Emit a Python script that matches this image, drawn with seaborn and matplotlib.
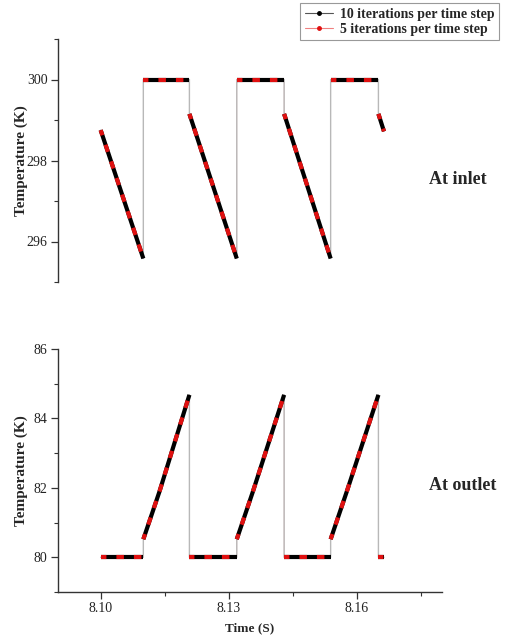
import numpy as np
import pandas as pd
import matplotlib
matplotlib.use("Agg")
import matplotlib.pyplot as plt
from matplotlib.lines import Line2D
from matplotlib.ticker import MultipleLocator, FixedLocator
import seaborn as sns

# ---------------- data ----------------
time_inlet = [8.1000, 8.1100, 8.1100, 8.1208, 8.1208, 8.1319, 8.1319, 8.1430,
              8.1430, 8.1539, 8.1539, 8.1651, 8.1651, 8.1664]
temp_inlet_10 = [298.75, 295.58, 300.0, 300.0, 299.15, 295.58, 300.0, 300.0,
                 299.15, 295.58, 300.0, 300.0, 299.15, 298.72]
temp_inlet_5 = [298.75, 295.58, 300.0, 300.0, 299.15, 295.58, 300.0, 300.0,
                299.15, 295.58, 300.0, 300.0, 299.15, 298.72]
seg_inlet = [0, 0, 1, 1, 2, 2, 3, 3, 4, 4, 5, 5, 6, 6]

time_outlet = [8.1000, 8.1100, 8.1100, 8.1138, 8.1208, 8.1208, 8.1319,
               8.1319, 8.1357, 8.1430, 8.1430, 8.1539, 8.1539, 8.1577,
               8.1651, 8.1651, 8.1664]
temp_outlet_10 = [80.0, 80.0, 80.52, 81.90, 84.68, 80.0, 80.0,
                  80.52, 81.90, 84.68, 80.0, 80.0, 80.52, 81.90,
                  84.68, 80.0, 80.0]
temp_outlet_5 = [80.0, 80.0, 80.52, 81.90, 84.68, 80.0, 80.0,
                 80.52, 81.90, 84.68, 80.0, 80.0, 80.52, 81.90,
                 84.68, 80.0, 80.0]
seg_outlet = [0, 0, 1, 1, 1, 2, 2, 3, 3, 3, 4, 4, 5, 5, 5, 6, 6]

series_labels = ["10 iterations per time step", "5 iterations per time step"]
x_ticks = [8.10, 8.13, 8.16]
x_ticklabels = ["8.10", "8.13", "8.16"]
inlet_yticks = [296, 298, 300]
outlet_yticks = [80, 82, 84, 86]

# ---------------- style ----------------
sns.set_theme(style="ticks")
plt.rcParams["font.family"] = ["Liberation Serif", "DejaVu Serif"]
plt.rcParams["axes.edgecolor"] = "#333333"
plt.rcParams["xtick.color"] = "#333333"
plt.rcParams["ytick.color"] = "#333333"
plt.rcParams["xtick.labelcolor"] = "#222222"
plt.rcParams["ytick.labelcolor"] = "#222222"

fig = plt.figure(figsize=(5.22, 6.4), dpi=100)
W, H = 522, 640
ax_top = fig.add_axes([58 / W, 1 - 282 / H, 384 / W, 243 / H])
ax_bot = fig.add_axes([58 / W, 1 - 592 / H, 384 / W, 243 / H])


def draw(ax, t, T10, T5, seg):
    df10 = pd.DataFrame({"t": t, "T": T10, "seg": seg})
    df5 = pd.DataFrame({"t": t, "T": T5, "seg": seg})
    # thin connecting lines (including jumps)
    sns.lineplot(data=df5, x="t", y="T", estimator=None, sort=False,
                 color="#f2b0b0", lw=0.5, ax=ax, zorder=1)
    sns.lineplot(data=df10, x="t", y="T", estimator=None, sort=False,
                 color="#b8b8b8", lw=1.0, ax=ax, zorder=2)
    # dense-marker look of each continuous piece
    sns.lineplot(data=df10, x="t", y="T", units="seg", estimator=None,
                 sort=False, color="black", lw=3.0, ax=ax, zorder=3,
                 solid_capstyle="butt")
    sns.lineplot(data=df5, x="t", y="T", units="seg", estimator=None,
                 sort=False, color="#e01010", lw=3.0, ax=ax, zorder=4,
                 dashes=False, linestyle=(0.5, (1.8, 2.4)),
                 dash_capstyle="butt")


draw(ax_top, time_inlet, temp_inlet_10, temp_inlet_5, seg_inlet)
draw(ax_bot, time_outlet, temp_outlet_10, temp_outlet_5, seg_outlet)

for ax in (ax_top, ax_bot):
    ax.set_xlim(8.09, 8.18)
    ax.spines["top"].set_visible(False)
    ax.spines["right"].set_visible(False)
    ax.spines["left"].set_linewidth(1.0)
    ax.spines["bottom"].set_linewidth(1.0)
    ax.tick_params(axis="both", which="major", direction="out", length=5,
                   width=0.9, labelsize=10, pad=2.5)
    ax.tick_params(axis="both", which="minor", direction="out", length=2.8,
                   width=0.8)
    ax.set_ylabel("Temperature (K)", fontsize=11, fontweight="bold")
    ax.yaxis.set_label_coords(-0.078, 0.5)
    ax.set_facecolor("white")

# top panel: no x axis
ax_top.set_ylim(295, 301)
ax_top.set_yticks(inlet_yticks)
ax_top.yaxis.set_minor_locator(MultipleLocator(1))
ax_top.spines["bottom"].set_visible(False)
ax_top.set_xticks([])
ax_top.set_xlabel("")
ax_top.tick_params(axis="x", which="both", bottom=False, labelbottom=False)

# bottom panel
ax_bot.set_ylim(79, 86)
ax_bot.set_yticks(outlet_yticks)
ax_bot.yaxis.set_minor_locator(MultipleLocator(1))
ax_bot.set_xticks(x_ticks)
ax_bot.set_xticklabels(x_ticklabels)
ax_bot.xaxis.set_minor_locator(FixedLocator([8.115, 8.145, 8.175]))
ax_bot.set_xlabel("Time (S)", fontsize=9.5, fontweight="bold", labelpad=5)

fig.text(458 / W, 1 - 179 / H, "At inlet", ha="center", va="center",
         fontsize=13, fontweight="bold")
fig.text(463 / W, 1 - 486 / H, "At outlet", ha="center", va="center",
         fontsize=13, fontweight="bold")

handles = [
    Line2D([], [], color="#555555", lw=0.8, marker="o", ms=2.5,
           mfc="black", mec="black"),
    Line2D([], [], color="#f08080", lw=0.8, marker="o", ms=2.5,
           mfc="#e01010", mec="#e01010"),
]
leg = fig.legend(handles, series_labels, loc="upper right",
                 bbox_to_anchor=(499 / W, 1 - 3 / H), frameon=True,
                 fancybox=False, framealpha=1, edgecolor="#999999",
                 prop={"family": "Liberation Serif", "weight": "bold",
                       "size": 10},
                 handlelength=2.0, handletextpad=0.5, borderpad=0.35,
                 labelspacing=0.12, borderaxespad=0.0)
leg.get_frame().set_linewidth(0.8)

fig.savefig("out.png", dpi=100, facecolor="white")
